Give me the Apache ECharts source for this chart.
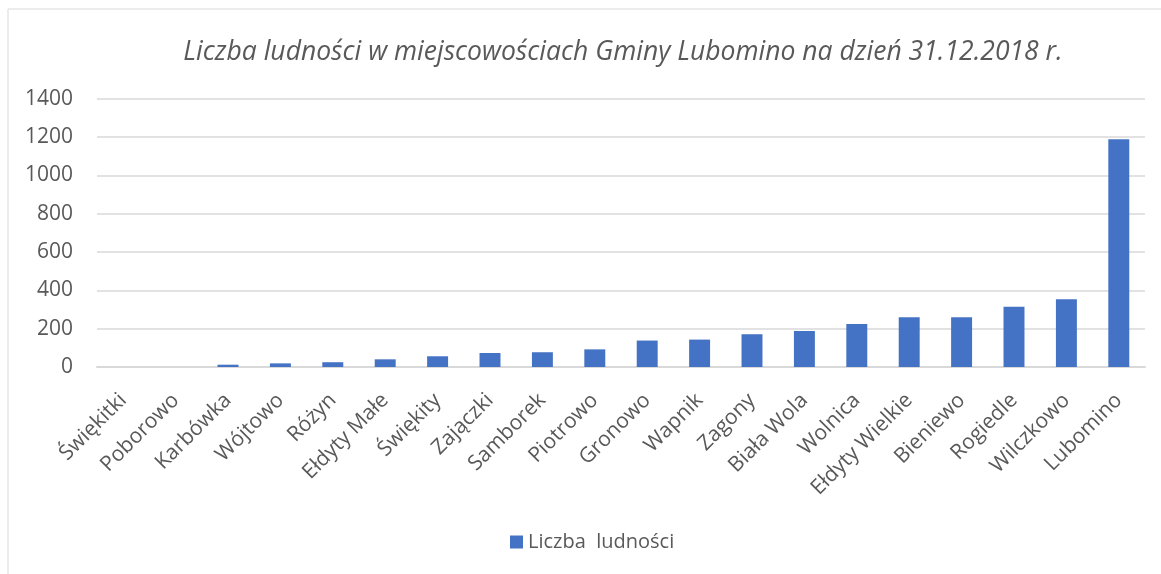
<!DOCTYPE html>
<html>
<head>
<meta charset="utf-8">
<script src="https://cdn.jsdelivr.net/npm/echarts@6/dist/echarts.min.js"></script>
<style>
  html, body { margin: 0; padding: 0; background: #fff; }
  #chart { width: 1161px; height: 574px; }
</style>
</head>
<body>
<div id="chart"></div>
<script>
// miejscowości (kolejność jak na wykresie)
const categories = [
  'Świękitki', 'Poborowo', 'Karbówka', 'Wójtowo', 'Różyn', 'Ełdyty Małe',
  'Świękity', 'Zajączki', 'Samborek', 'Piotrowo', 'Gronowo', 'Wapnik',
  'Zagony', 'Biała Wola', 'Wolnica', 'Ełdyty Wielkie', 'Bieniewo',
  'Rogiedle', 'Wilczkowo', 'Lubomino'
]
// liczba ludności
const population = [
  0, 0, 12, 19, 25, 40,
  56, 73, 77, 92, 138, 143,
  171, 188, 224, 259, 259,
  315, 353, 1188
]
const yTicks = [0, 200, 400, 600, 800, 1000, 1200, 1400]
const seriesName = 'Liczba  ludności'
const titleText = 'Liczba ludności w miejscowościach Gminy Lubomino na dzień 31.12.2018 r.'

const textColor = '#595959'
const fontFamily = '"Open Sans", "Noto Sans", sans-serif'

const chart = echarts.init(document.getElementById('chart'))
const option = {
  backgroundColor: '#fff',
  animation: false,
  title: {
    text: titleText,
    left: 618,
    top: 34,
    textAlign: 'center',
    textStyle: {
      fontFamily,
      fontStyle: 'italic',
      fontWeight: 'normal',
      fontSize: 26.5,
      color: textColor,
    },
  },
  graphic: [
    {
      type: 'rect',
      shape: { x: 8, y: 9, width: 1200, height: 600 },
      style: { fill: 'none', stroke: '#d9d9d9', lineWidth: 1 },
      silent: true,
    },
  ],
  legend: {
    data: [seriesName],
    left: 505,
    top: 527,
    icon: 'rect',
    itemWidth: 13,
    itemHeight: 13,
    itemGap: 6,
    textStyle: { fontFamily, fontSize: 20, color: textColor },
  },
  grid: {
    left: 97,
    right: 16,
    top: 98.7,
    bottom: 207,
  },
  xAxis: {
    type: 'category',
    data: categories,
    axisTick: { show: false },
    axisLine: { lineStyle: { color: '#d9d9d9', width: 2 } },
    axisLabel: {
      interval: 0,
      rotate: 45,
      margin: 30,
      fontFamily,
      fontSize: 21,
      color: textColor,
    },
  },
  yAxis: {
    type: 'value',
    min: yTicks[0],
    max: yTicks[yTicks.length - 1],
    interval: 200,
    axisLine: { show: false },
    axisTick: { show: false },
    splitLine: { lineStyle: { color: '#d9d9d9', width: 1.5 } },
    axisLabel: {
      margin: 24,
      fontFamily,
      fontSize: 21,
      color: textColor,
      formatter: (v) => String(v),
    },
  },
  series: [
    {
      name: seriesName,
      type: 'bar',
      data: population,
      barWidth: '40%',
      itemStyle: { color: '#4472c4' },
    },
  ],
}
chart.setOption(option)
</script>
</body>
</html>
